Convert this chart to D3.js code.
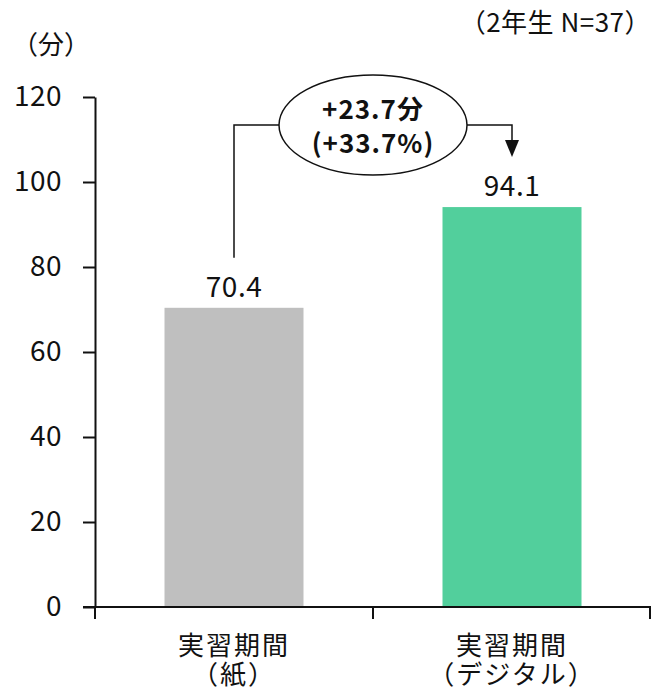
<!DOCTYPE html>
<html>
<head>
<meta charset="utf-8">
<script src="https://cdn.jsdelivr.net/npm/d3@7"></script>
<style>
  html, body { margin: 0; padding: 0; background: #fff; }
  svg { display: block; }
  text { font-family: "Noto Sans CJK JP", "Noto Sans", sans-serif; fill: #111; }
</style>
</head>
<body>
<svg id="chart" width="651" height="691"></svg>
<script>
// Average study minutes during the practicum, paper vs. digital
const categories = ["実習期間\n（紙）", "実習期間\n（デジタル）"];
const values = [70.4, 94.1];
const barColors = ["#bfbfbf", "#52cf9c"];
const yTicks = [0, 20, 40, 60, 80, 100, 120];
const diffLabel = ["+23.7分", "(+33.7%)"];
const unitLabel = "（分）";
const sampleLabel = "（2年生 N=37）";

const svg = d3.select("#chart");
const margin = { left: 95, right: 0, top: 97, bottom: 84 };
const W = 651, H = 691;

const x = d3.scaleBand().domain(categories).range([margin.left, W]).paddingInner(0.5).paddingOuter(0.25);
const y = d3.scaleLinear().domain([0, 120]).range([H - margin.bottom, margin.top]);

// bars
svg.selectAll("rect.bar").data(values).join("rect")
  .attr("class", "bar")
  .attr("x", (d, i) => x(categories[i]))
  .attr("width", x.bandwidth())
  .attr("y", d => y(d))
  .attr("height", d => y(0) - y(d))
  .attr("fill", (d, i) => barColors[i]);

// value labels
svg.selectAll("text.val").data(values).join("text")
  .attr("class", "val")
  .attr("x", (d, i) => x(categories[i]) + x.bandwidth() / 2)
  .attr("y", d => y(d) - 11)
  .attr("text-anchor", "middle")
  .attr("font-size", 28)
  .attr("letter-spacing", 0.5)
  .text(d => d.toFixed(1));

// y axis
const yAxis = svg.append("g").attr("transform", `translate(${margin.left},0)`)
  .call(d3.axisLeft(y).tickValues(yTicks).tickSize(12).tickPadding(21).tickSizeOuter(0));
yAxis.select(".domain").attr("stroke", "#111").attr("stroke-width", 2);
yAxis.selectAll(".tick line").attr("stroke", "#111").attr("stroke-width", 2);
yAxis.selectAll(".tick text").attr("font-size", 28).attr("fill", "#111")
  .attr("letter-spacing", 0.5)
  .attr("font-family", "'Noto Sans CJK JP', sans-serif");

// x axis with boundary ticks between categories
const step = x.step();
const xAxisG = svg.append("g");
xAxisG.append("line")
  .attr("x1", margin.left - 12).attr("x2", W)
  .attr("y1", y(0)).attr("y2", y(0))
  .attr("stroke", "#111").attr("stroke-width", 2);
xAxisG.selectAll("line.bt").data([margin.left, margin.left + step, Math.min(W - 1, margin.left + 2 * step)]).join("line")
  .attr("class", "bt")
  .attr("x1", d => d).attr("x2", d => d)
  .attr("y1", y(0)).attr("y2", y(0) + 12)
  .attr("stroke", "#111").attr("stroke-width", 2);

// category labels
categories.forEach(c => {
  const lines = c.split("\n");
  const cx = x(c) + x.bandwidth() / 2;
  const t = svg.append("text")
    .attr("x", cx)
    .attr("y", y(0) + 48)
    .attr("text-anchor", "middle")
    .attr("font-size", 26)
    .attr("letter-spacing", 2);
  lines.forEach((l, i) => t.append("tspan")
    .attr("x", cx)
    .attr("dy", i === 0 ? 0 : 29)
    .text(l));
});

// difference connector with ellipse callout
const cx0 = x(categories[0]) + x.bandwidth() / 2;
const cx1 = x(categories[1]) + x.bandwidth() / 2;
const ex = (margin.left + W) / 2, ey = 125, rx = 94, ry = 50;
const conn = svg.append("g").attr("fill", "none").attr("stroke", "#111").attr("stroke-width", 1.5);
conn.append("polyline")
  .attr("points", [[cx0, y(values[0]) - 50], [cx0, ey], [ex - rx, ey]].join(" "));
conn.append("polyline")
  .attr("points", [[ex + rx, ey], [cx1, ey], [cx1, ey + 16]].join(" "));
svg.append("path")
  .attr("d", `M${cx1 - 7},${ey + 15} L${cx1 + 7},${ey + 15} L${cx1},${ey + 32} Z`)
  .attr("fill", "#111");
svg.append("ellipse")
  .attr("cx", ex).attr("cy", ey).attr("rx", rx).attr("ry", ry)
  .attr("fill", "#fff").attr("stroke", "#111").attr("stroke-width", 1.5);
diffLabel.forEach((l, i) => svg.append("text")
  .attr("x", ex).attr("y", ey - 6 + i * 34)
  .attr("text-anchor", "middle")
  .attr("font-size", 26).attr("font-weight", "bold")
  .attr("letter-spacing", 1)
  .text(l));

// unit and sample size notes
svg.append("text").attr("x", 12).attr("y", 54).attr("font-size", 26).text(unitLabel);
svg.append("text").attr("x", 651).attr("y", 32).attr("text-anchor", "end")
  .attr("font-size", 26).attr("letter-spacing", 0.5).text(sampleLabel);
</script>
</body>
</html>
